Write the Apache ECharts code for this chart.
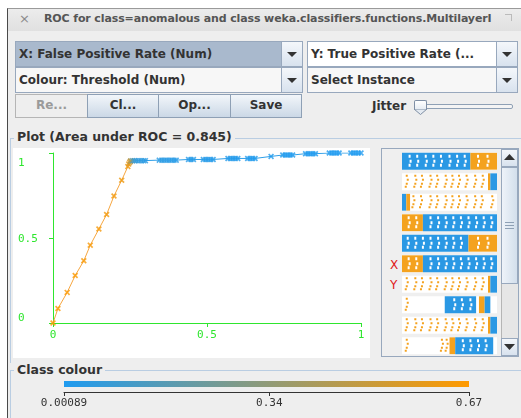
<!DOCTYPE html>
<html><head><meta charset="utf-8">
<script src="https://cdn.jsdelivr.net/npm/echarts@6/dist/echarts.min.js"></script>
<style>
html,body{margin:0;padding:0;width:521px;height:418px;overflow:hidden;background:#fff;font-family:"DejaVu Sans",sans-serif;}
.a{position:absolute;box-sizing:border-box;}
#win{left:7px;top:8px;width:520px;height:420px;background:#eeeeee;border-left:1px solid #4a4a4a;border-top:1px solid #9a9a9a;}
#tbar{left:8px;top:9px;width:513px;height:22px;background:linear-gradient(#ececec,#e0e0e0);}
.t{white-space:nowrap;font-weight:bold;color:#333;font-size:12px;}
.combo{height:26px;border:1px solid #98a8bd;background:#fff;}
.combo .lbl{position:absolute;left:3px;top:5px;font-weight:bold;font-size:12px;color:#333;white-space:nowrap;}
.combo .arr{position:absolute;right:0;top:0;width:20px;height:24px;border-left:1px solid #98a8bd;background:linear-gradient(#f4f7fb,#d8e2ee);}
.combo .arr:after{content:"";position:absolute;left:5px;top:10px;border-left:5px solid transparent;border-right:5px solid transparent;border-top:5px solid #333;}
.btn{top:94px;height:24px;border:1px solid #8ea0b5;background:linear-gradient(#f2f6fa,#cbd8e6);text-align:center;line-height:21px;font-weight:bold;font-size:12px;color:#333;}
.fs{border-top:1px solid #b9cde2;}
#chart{position:absolute;left:0;top:0;width:521px;height:418px;}
</style></head>
<body>
<div class="a" id="win"></div>
<div class="a" id="tbar"></div>
<div class="a t" style="left:19px;top:11px;color:#8a8a8a;font-size:13px;font-weight:normal;">×</div>
<div class="a t" style="left:44px;top:12px;color:#555;font-size:11px;letter-spacing:-0.12px;width:448px;overflow:hidden;">ROC for class=anomalous and class weka.classifiers.functions.MultilayerI</div>
<div class="a" style="left:505px;top:14px;width:7px;height:7px;border-top:1px solid #bbb;border-right:1px solid #bbb;"></div>

<div class="a combo" style="left:15px;top:41px;width:288px;background:#a9b9cd;"><span class="lbl">X: False Positive Rate (Num)</span><span class="arr"></span></div>
<div class="a combo" style="left:307px;top:41px;width:211px;"><span class="lbl">Y: True Positive Rate (...</span><span class="arr"></span></div>
<div class="a combo" style="left:15px;top:67px;width:288px;background:#f7f7f7;"><span class="lbl">Colour: Threshold (Num)</span><span class="arr"></span></div>
<div class="a combo" style="left:307px;top:67px;width:211px;background:#f7f7f7;"><span class="lbl">Select Instance</span><span class="arr"></span></div>

<div class="a btn" style="left:15px;width:73px;background:#eeeeee;color:#9a9a9a;border-color:#b5b5b5;">Re...</div>
<div class="a btn" style="left:87px;width:72px;">Cl...</div>
<div class="a btn" style="left:158px;width:73px;">Op...</div>
<div class="a btn" style="left:230px;width:72px;">Save</div>

<div class="a t" style="left:372px;top:99px;">Jitter</div>
<div class="a" style="left:418px;top:104px;width:95px;height:5px;border:1px solid #8ea0b5;background:#f4f4f4;border-radius:2px;"></div>
<div class="a" style="left:414px;top:100px;width:13px;height:10px;border:1px solid #7f8fa5;border-bottom:none;background:linear-gradient(#fff,#e4eaf1);border-radius:2px 2px 0 0;"></div>
<svg class="a" style="left:414px;top:109px;" width="13" height="6"><polygon points="0,0 13,0 6.5,5.5" fill="#e4eaf1" stroke="#7f8fa5" stroke-width="1"/></svg>

<div class="a fs" style="left:10px;top:138px;width:511px;height:225px;border-left:1px solid #b9cde2;"></div>
<div class="a t" style="left:14px;top:129px;background:#eeeeee;padding:0 3px;font-size:12.5px;">Plot (Area under ROC = 0.845)</div>
<div class="a" style="left:13px;top:148px;width:357px;height:210px;background:#fff;"></div>
<div class="a" style="left:381px;top:148px;width:138px;height:209px;background:#efefef;border:1px solid #98a8bd;"></div>
<div class="a" style="left:390px;top:258px;color:#e01818;font-size:12px;">X</div>
<div class="a" style="left:390px;top:278px;color:#e01818;font-size:12px;">Y</div>
<!-- scrollbar -->
<div class="a" style="left:501px;top:149px;width:17px;height:207px;background:#e6e6e6;border-left:1px solid #b5b5b5;"></div>
<div class="a" style="left:501px;top:149px;width:17px;height:18px;border:1px solid #98a8bd;background:linear-gradient(#f4f7fb,#d8e2ee);"></div>
<svg class="a" style="left:504px;top:154px;" width="11" height="7"><polygon points="0,6 11,6 5.5,0" fill="#333"/></svg>
<div class="a" style="left:501px;top:167px;width:17px;height:117px;border:1px solid #98a8bd;background:linear-gradient(90deg,#eef3f9,#d3dfec);"></div>
<div class="a" style="left:505px;top:222px;width:9px;height:7px;border-top:1px solid #8ea0b5;border-bottom:1px solid #8ea0b5;"></div>
<div class="a" style="left:505px;top:225px;width:9px;height:1px;background:#8ea0b5;"></div>
<div class="a" style="left:501px;top:338px;width:17px;height:18px;border:1px solid #98a8bd;background:linear-gradient(#f4f7fb,#d8e2ee);"></div>
<svg class="a" style="left:504px;top:344px;" width="11" height="7"><polygon points="0,0 11,0 5.5,6" fill="#333"/></svg>

<div class="a fs" style="left:10px;top:370px;width:511px;height:60px;border-left:1px solid #b9cde2;"></div>
<div class="a t" style="left:14px;top:362px;background:#eeeeee;padding:0 3px;font-size:12.5px;">Class colour</div>

<div id="chart"></div>
<script>
// ROC points (false positive rate, true positive rate, threshold)
const fprOrange = [0, 0.016, 0.046, 0.072, 0.100, 0.121, 0.149, 0.174, 0.198, 0.223, 0.243, 0.246, 0.249, 0.252];
const tprOrange = [0, 0.085, 0.180, 0.279, 0.366, 0.458, 0.553, 0.638, 0.747, 0.840, 0.920, 0.935, 0.945, 0.953];
const thrOrange = [0.67, 0.665, 0.66, 0.655, 0.65, 0.645, 0.64, 0.635, 0.63, 0.62, 0.61, 0.60, 0.55, 0.45];
const fprBlue = [0.252, 0.258, 0.264, 0.270, 0.278, 0.286, 0.294, 0.300,
  0.345, 0.353, 0.361, 0.369, 0.377, 0.385, 0.393, 0.400,
  0.440, 0.448, 0.456, 0.488, 0.496, 0.504, 0.512, 0.520,
  0.568, 0.576, 0.584, 0.592, 0.600, 0.632, 0.640, 0.648, 0.656,
  0.708, 0.746, 0.754, 0.762, 0.770, 0.778,
  0.820, 0.828, 0.836, 0.844, 0.852,
  0.897, 0.905, 0.913, 0.921, 0.929,
  0.967, 0.975, 0.983, 0.991, 1.000];
const tprBlue = [0.953, 0.955, 0.955, 0.955, 0.955, 0.955, 0.955, 0.955,
  0.958, 0.958, 0.958, 0.958, 0.958, 0.958, 0.958, 0.958,
  0.962, 0.962, 0.962, 0.962, 0.962, 0.962, 0.962, 0.962,
  0.968, 0.968, 0.968, 0.968, 0.968, 0.968, 0.968, 0.968, 0.968,
  0.980, 0.988, 0.988, 0.988, 0.988, 0.988,
  0.996, 0.996, 0.996, 0.996, 0.996,
  1.0, 1.0, 1.0, 1.0, 1.0,
  1.0, 1.0, 1.0, 1.0, 1.0];
const thrBlue = [0.45, 0.20, 0.10, 0.06, 0.05, 0.045, 0.04, 0.038,
  0.035, 0.033, 0.031, 0.03, 0.029, 0.028, 0.027, 0.026,
  0.024, 0.023, 0.022, 0.021, 0.02, 0.019, 0.018, 0.017,
  0.016, 0.015, 0.014, 0.013, 0.012, 0.011, 0.010, 0.009, 0.008,
  0.007, 0.0065, 0.006, 0.0055, 0.005, 0.0045,
  0.004, 0.0037, 0.0034, 0.0031, 0.0028,
  0.0025, 0.0022, 0.002, 0.0018, 0.0016,
  0.0014, 0.0012, 0.0011, 0.001, 0.00089];
const axisTicks = [0, 0.5, 1];
const axisTickLabels = ['0', '0.5', '1'];
// colour scale
const thrMin = 0.00089, thrMax = 0.67;
const colourTicks = [0.00089, 0.34, 0.67];
const colourTickLabels = ['0.00089', '0.34', '0.67'];
// attribute strips on the right: [row, start, end, class(0 blue,1 orange)]
const stripRows = [0,1,2,3,4,5,6,7,8,9];
const stripSegments = [
  [0,0,0.72,0],[0,0.72,1,1],
  [1,0.905,0.93,1],[1,0.93,1,0],
  [2,0.0,0.045,0],[2,0.045,0.085,1],
  [3,0,0.22,1],[3,0.22,1,0],
  [4,0,0.70,0],[4,0.70,1,1],
  [5,0,0.22,1],[5,0.22,1,0],
  [6,0.905,0.93,1],[6,0.93,1,0],
  [7,0.45,0.78,0],[7,0.81,0.87,1],[7,0.87,0.93,0],
  [8,0.905,0.93,1],[8,0.93,1,0],
  [9,0.50,0.56,1],[9,0.56,0.96,0]
];
// columns of white gaps inside the dense bands: [row, x]
const stripGaps = [
  [0,0.08],[0,0.16],[0,0.25],[0,0.33],[0,0.41],[0,0.5],[0,0.58],[0,0.66],[0,0.8],[0,0.9],
  [3,0.07],[3,0.15],[3,0.3],[3,0.38],[3,0.46],[3,0.54],[3,0.62],[3,0.7],[3,0.78],[3,0.86],[3,0.94],
  [4,0.06],[4,0.14],[4,0.22],[4,0.3],[4,0.38],[4,0.46],[4,0.54],[4,0.62],[4,0.8],[4,0.9],
  [5,0.07],[5,0.15],[5,0.3],[5,0.38],[5,0.46],[5,0.54],[5,0.62],[5,0.7],[5,0.78],[5,0.86],[5,0.94],
  [7,0.55],[7,0.63],[7,0.72],
  [9,0.64],[9,0.72],[9,0.8],[9,0.88]
];
// sparse orange dot columns: [row, x]
const stripDots = [
  [1,0.05],[1,0.14],[1,0.21],[1,0.30],[1,0.37],[1,0.46],[1,0.53],[1,0.60],[1,0.68],[1,0.77],[1,0.85],
  [2,0.12],[2,0.20],[2,0.30],[2,0.37],[2,0.46],[2,0.53],[2,0.60],[2,0.68],[2,0.77],[2,0.84],[2,0.95],
  [6,0.05],[6,0.14],[6,0.21],[6,0.30],[6,0.37],[6,0.46],[6,0.53],[6,0.60],[6,0.68],[6,0.77],[6,0.85],
  [7,0.05],
  [8,0.05],[8,0.14],[8,0.21],[8,0.30],[8,0.37],[8,0.46],[8,0.53],[8,0.60],[8,0.68],[8,0.77],[8,0.85],
  [9,0.05],[9,0.42],[9,0.47]
];

const BLUE = '#1f9bf0', ORANGE = '#ff9a00';
const green = '#2ee62e';
const mono = '"DejaVu Sans Mono", monospace';
const xMark = 'path://M0,2L2,0L5,3L8,0L10,2L7,5L10,8L8,10L5,7L2,10L0,8L3,5Z';

const orangeLine = fprOrange.map((v, i) => [v, tprOrange[i]]);
const blueLine = fprBlue.map((v, i) => [v, tprBlue[i]]);
const pts = fprOrange.map((v, i) => [v, tprOrange[i], thrOrange[i]])
  .concat(fprBlue.map((v, i) => [v, tprBlue[i], thrBlue[i]]));

const chart = echarts.init(document.getElementById('chart'), null, {renderer: 'canvas'});
chart.setOption({
  backgroundColor: 'transparent',
  animation: false,
  grid: [
    {left: 53, top: 153, width: 308, height: 170},
    {left: 402, top: 151, width: 95, height: 205},
    {left: 64, top: 381, width: 405, height: 11}
  ],
  xAxis: [
    {gridIndex: 0, type: 'value', min: 0, max: 1, interval: 0.5,
     axisLine: {lineStyle: {color: green, width: 1}},
     axisTick: {show: true, length: 4, lineStyle: {color: green}},
     splitLine: {show: false},
     axisLabel: {color: green, fontFamily: mono, fontSize: 11, margin: 7,
       formatter: v => axisTickLabels[axisTicks.indexOf(v)]}},
    {gridIndex: 1, type: 'value', min: 0, max: 1, show: false},
    {gridIndex: 2, type: 'value', min: thrMin, max: thrMax, position: 'bottom',
     axisLine: {lineStyle: {color: '#333', width: 1}},
     axisTick: {show: true, length: 4, customValues: colourTicks, lineStyle: {color: '#333'}},
     splitLine: {show: false},
     axisLabel: {color: '#333', fontFamily: mono, fontSize: 11, margin: 6,
       customValues: colourTicks,
       formatter: v => colourTickLabels[colourTicks.indexOf(v)] || ''}}
  ],
  yAxis: [
    {gridIndex: 0, type: 'value', min: 0, max: 1, interval: 0.5,
     axisLine: {show: true, lineStyle: {color: green, width: 1}},
     axisTick: {show: true, length: 4, lineStyle: {color: green}},
     splitLine: {show: false},
     axisLabel: {color: green, fontFamily: mono, fontSize: 11, margin: 35, align: 'left',
       formatter: v => v === 1 ? '{d|1}' : v === 0 ? '{u|0}' : '{m|' + axisTickLabels[axisTicks.indexOf(v)] + '}',
       rich: {
         d: {color: green, fontFamily: mono, fontSize: 11, padding: [20, 0, 0, 0]},
         u: {color: green, fontFamily: mono, fontSize: 11, padding: [0, 0, 10, 0]},
         m: {color: green, fontFamily: mono, fontSize: 11, padding: [2, 0, 0, 0]}
       }}},
    {gridIndex: 1, type: 'category', data: stripRows, inverse: true, show: false},
    {gridIndex: 2, type: 'value', min: 0, max: 1, show: false}
  ],
  visualMap: {
    show: false, type: 'continuous', seriesIndex: 2, dimension: 2,
    min: thrMin, max: thrMax, inRange: {color: [BLUE, ORANGE]}
  },
  series: [
    {type: 'line', xAxisIndex: 0, yAxisIndex: 0, data: orangeLine, showSymbol: false,
     lineStyle: {color: '#f6a640', width: 1}, z: 2},
    {type: 'line', xAxisIndex: 0, yAxisIndex: 0, data: blueLine, showSymbol: false,
     lineStyle: {color: '#2f9fe8', width: 1}, z: 2},
    {type: 'scatter', xAxisIndex: 0, yAxisIndex: 0, data: pts, symbol: xMark, symbolSize: 6, z: 3},
    // strips: white backgrounds
    {type: 'custom', xAxisIndex: 1, yAxisIndex: 1, data: stripRows.map(r => [r]), z: 1,
     renderItem: (params, api) => {
       const p0 = api.coord([0, api.value(0)]);
       const p1 = api.coord([1, api.value(0)]);
       const h = api.size([0, 1])[1] * 0.82;
       return {type: 'rect', shape: {x: p0[0], y: p0[1] - h / 2, width: p1[0] - p0[0], height: h},
               style: {fill: '#ffffff'}};
     }},
    // strips: coloured segments
    {type: 'custom', xAxisIndex: 1, yAxisIndex: 1, data: stripSegments, z: 2,
     renderItem: (params, api) => {
       const row = api.value(0);
       const p0 = api.coord([api.value(1), row]);
       const p1 = api.coord([api.value(2), row]);
       const h = api.size([0, 1])[1] * 0.82;
       const col = api.value(3) === 1 ? '#f4a21e' : '#2a98e4';
       return {type: 'rect', shape: {x: p0[0], y: p0[1] - h / 2, width: p1[0] - p0[0], height: h},
               style: {fill: col}};
     },
     encode: {x: [1, 2], y: 0}},
    // strips: white gaps inside dense bands
    {type: 'custom', xAxisIndex: 1, yAxisIndex: 1, data: stripGaps, z: 3,
     renderItem: (params, api) => {
       const p = api.coord([api.value(1), api.value(0)]);
       const offs = [[0, -5], [1, 0], [0, 4]];
       return {type: 'group', children: offs.map(o => ({type: 'rect',
         shape: {x: p[0] + o[0] - 1, y: p[1] + o[1] - 1.5, width: 2, height: 3},
         style: {fill: '#ffffff'}}))};
     },
     encode: {x: 1, y: 0}},
    // strips: sparse dots
    {type: 'custom', xAxisIndex: 1, yAxisIndex: 1, data: stripDots, z: 3,
     renderItem: (params, api) => {
       const p = api.coord([api.value(1), api.value(0)]);
       const offs = [[0, -6], [1, -2], [0, 2], [-1, 5]];
       return {type: 'group', children: offs.map(o => ({type: 'rect',
         shape: {x: p[0] + o[0] - 1, y: p[1] + o[1] - 1, width: 2, height: 2},
         style: {fill: '#f4a21e'}}))};
     },
     encode: {x: 1, y: 0}},
    // colour bar
    {type: 'custom', xAxisIndex: 2, yAxisIndex: 2, data: [[thrMin, thrMax]], z: 2,
     renderItem: (params, api) => {
       const a = api.coord([api.value(0), 1]);
       const b = api.coord([api.value(1), 1]);
       return {type: 'rect', shape: {x: a[0], y: a[1], width: b[0] - a[0], height: 6},
               style: {fill: new echarts.graphic.LinearGradient(0, 0, 1, 0,
                 [{offset: 0, color: BLUE}, {offset: 1, color: ORANGE}])}};
     },
     encode: {x: [0, 1]}}
  ]
});
</script>
</body></html>
